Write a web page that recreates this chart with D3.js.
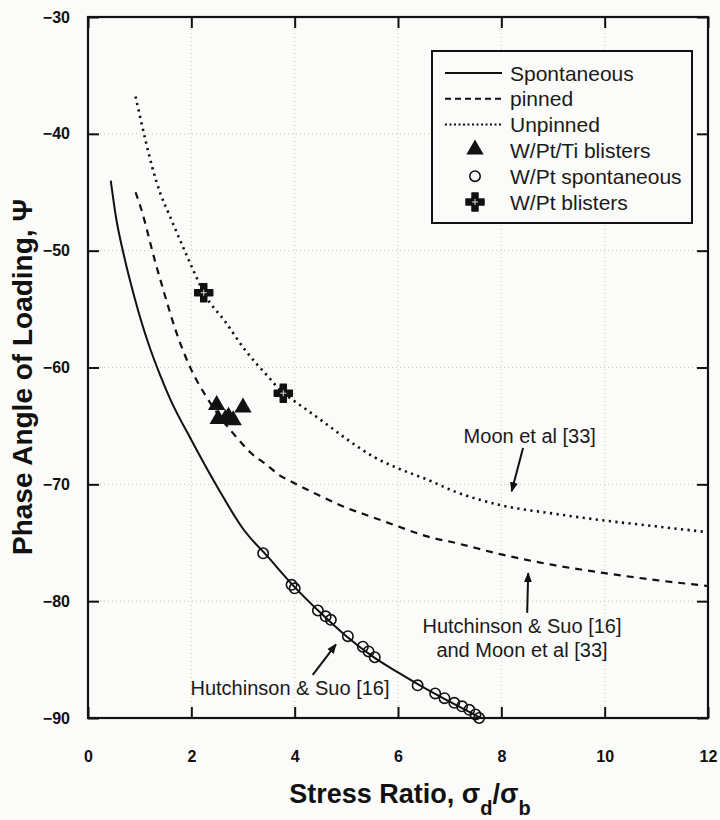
<!DOCTYPE html>
<html>
<head>
<meta charset="utf-8">
<script src="https://cdn.jsdelivr.net/npm/d3@7"></script>
<style>
  body { margin: 0; background: #fbfbf9; }
  svg { display: block; font-family: "Liberation Sans", Arial, sans-serif; }
</style>
</head>
<body>
<svg id="chart" width="720" height="820"></svg>
<script>
// curves
const spontX = [0.44, 0.54, 0.7, 0.9, 1.18, 1.4, 1.6, 2.0, 2.5, 3.0, 3.5, 4.0, 4.5, 5.0, 5.5, 6.0, 6.5, 7.0, 7.6];
const spontY = [-44, -47.1, -50.5, -54, -58.1, -60.7, -62.8, -66.2, -70.2, -73.8, -76.3, -78.8, -81, -83, -84.7, -86.1, -87.4, -88.6, -90];

const pinnedX = [0.92, 1.02, 1.31, 1.46, 1.71, 2.0, 2.29, 2.6, 2.9, 3.15, 3.45, 3.7, 3.95, 4.45, 5.0, 5.5, 6.0, 6.6, 7.1, 8.0, 9.0, 10.0, 11.0, 12.0];
const pinnedY = [-45, -46.3, -51.1, -53.4, -57, -60.2, -62.5, -64.5, -66.1, -67.3, -68.3, -69.2, -69.8, -70.9, -72, -72.8, -73.6, -74.5, -75, -76, -76.9, -77.6, -78.2, -78.7];

const unpinnedX = [0.92, 1.11, 1.24, 1.4, 1.56, 1.95, 2.08, 2.24, 2.66, 3.04, 3.49, 3.78, 3.97, 4.51, 5.03, 5.55, 5.93, 6.57, 7.09, 8.0, 9.0, 10.0, 11.0, 12.0];
const unpinnedY = [-36.8, -40.5, -42.8, -45.1, -46.8, -50.8, -52.1, -53.6, -56.1, -58.5, -60.8, -62.2, -62.8, -64.5, -66.2, -67.7, -68.5, -69.6, -70.6, -71.8, -72.5, -73.1, -73.6, -74.1];

// measured points
const triX = [2.49, 3.0, 2.52, 2.66, 2.72, 2.81];
const triY = [-63.3, -63.5, -64.5, -64.5, -64.3, -64.6];

const circX = [3.39, 3.94, 4.0, 4.45, 4.6, 4.7, 5.03, 5.32, 5.43, 5.55, 6.38, 6.72, 6.9, 7.09, 7.24, 7.38, 7.5, 7.57];
const circY = [-75.9, -78.6, -78.9, -80.8, -81.3, -81.6, -83.0, -83.9, -84.3, -84.8, -87.2, -87.9, -88.3, -88.7, -89.0, -89.3, -89.7, -90];

const crossX = [2.24, 3.78];
const crossY = [-53.6, -62.2];

const xTicks = [0, 2, 4, 6, 8, 10, 12];
const yTicks = [-30, -40, -50, -60, -70, -80, -90];

const legendLabels = ["Spontaneous", "pinned", "Unpinned", "W/Pt/Ti blisters", "W/Pt spontaneous", "W/Pt blisters"];

const svg = d3.select('#chart');
const mLeft = 88, mRight = 708, mTop = 17, mBottom = 718;

const x = d3.scaleLinear().domain([0, 12]).range([mLeft, mRight]);
const y = d3.scaleLinear().domain([-90, -30]).range([mBottom, mTop]);

const zip = (xs, ys) => xs.map((v, i) => [v, ys[i]]);

// grid
svg.append('g').selectAll('line')
    .data(xTicks.slice(1, -1))
    .enter().append('line')
    .attr('x1', d => x(d)).attr('x2', d => x(d))
    .attr('y1', mTop).attr('y2', mBottom)
    .attr('stroke', '#c8c4b8').attr('stroke-width', 1).attr('stroke-dasharray', '1,3');
svg.append('g').selectAll('line')
    .data(yTicks.slice(1, -1))
    .enter().append('line')
    .attr('y1', d => y(d)).attr('y2', d => y(d))
    .attr('x1', mLeft).attr('x2', mRight)
    .attr('stroke', '#c8c4b8').attr('stroke-width', 1).attr('stroke-dasharray', '1,3');

// axes with inward ticks
const axisB = svg.append('g').attr('transform', `translate(0,${mBottom})`)
    .call(d3.axisBottom(x).tickValues(xTicks).tickSize(-11).tickPadding(33).tickFormat(d3.format('d')));
const axisT = svg.append('g').attr('transform', `translate(0,${mTop})`)
    .call(d3.axisTop(x).tickValues(xTicks).tickSize(-11).tickFormat(''));
const axisL = svg.append('g').attr('transform', `translate(${mLeft},0)`)
    .call(d3.axisLeft(y).tickValues(yTicks).tickSize(-11).tickPadding(18).tickFormat(d3.format('d')));
const axisR = svg.append('g').attr('transform', `translate(${mRight},0)`)
    .call(d3.axisRight(y).tickValues(yTicks).tickSize(-11).tickFormat(''));

[axisB, axisT, axisL, axisR].forEach(g => {
    g.select('.domain').remove();
    g.selectAll('.tick line').attr('stroke', '#111').attr('stroke-width', 2);
    g.selectAll('.tick text').attr('fill', '#111')
        .style('font-size', '16px').style('font-weight', 'bold')
        .style('font-family', '"Liberation Sans", Arial, sans-serif');
});

svg.append('rect')
    .attr('x', mLeft).attr('y', mTop)
    .attr('width', mRight - mLeft).attr('height', mBottom - mTop)
    .attr('fill', 'none').attr('stroke', '#111').attr('stroke-width', 2.2);

// curves
const line = d3.line().x(d => x(d[0])).y(d => y(d[1])).curve(d3.curveMonotoneX);

svg.append('path').datum(zip(spontX, spontY))
    .attr('d', line).attr('fill', 'none').attr('stroke', '#111').attr('stroke-width', 2);
svg.append('path').datum(zip(pinnedX, pinnedY))
    .attr('d', line).attr('fill', 'none').attr('stroke', '#111').attr('stroke-width', 2.2)
    .attr('stroke-dasharray', '7,6');
svg.append('path').datum(zip(unpinnedX, unpinnedY))
    .attr('d', line).attr('fill', 'none').attr('stroke', '#111').attr('stroke-width', 2.6)
    .attr('stroke-dasharray', '2.2,4.4');

// markers
const tri = d3.symbol().type(d3.symbolTriangle).size(130);
const cross = d3.symbol().type(d3.symbolCross).size(180);

function drawTri(g, px, py) {
    g.append('path').attr('d', tri()).attr('transform', `translate(${px},${py - 1})`).attr('fill', '#111');
}
function drawCirc(g, px, py) {
    g.append('circle').attr('cx', px).attr('cy', py).attr('r', 5.2)
        .attr('fill', 'none').attr('stroke', '#111').attr('stroke-width', 1.6);
}
function drawCross(g, px, py) {
    g.append('path').attr('d', cross()).attr('transform', `translate(${px},${py})`)
        .attr('fill', '#111').attr('stroke', '#111').attr('stroke-width', 1.5).attr('stroke-linejoin', 'round');
    g.append('path').attr('d', `M${px - 3},${py}H${px + 3}M${px},${py - 3}V${py + 3}`)
        .attr('stroke', '#ddd').attr('stroke-width', 1);
}

const pts = svg.append('g');
circX.forEach((v, i) => drawCirc(pts, x(v), y(circY[i])));
triX.forEach((v, i) => drawTri(pts, x(v), y(triY[i])));
crossX.forEach((v, i) => drawCross(pts, x(v), y(crossY[i])));

// annotations
const defs = svg.append('defs');
defs.append('marker').attr('id', 'head')
    .attr('viewBox', '0 0 10 10').attr('refX', 9).attr('refY', 5)
    .attr('markerWidth', 5).attr('markerHeight', 5).attr('orient', 'auto')
    .attr('markerUnits', 'strokeWidth')
    .append('path').attr('d', 'M0,1L10,5L0,9Z').attr('fill', '#111');

const notes = [
    { lines: ["Moon et al [33]"], tx: 8.55, ty: -66.5, ax0: [8.42, -66.9], ax1: [8.2, -70.6] },
    { lines: ["Hutchinson & Suo [16]", "and Moon et al [33]"], tx: 8.4, ty: -82.74, ax0: [8.5, -81.0], ax1: [8.52, -77.6] },
    { lines: ["Hutchinson & Suo [16]"], tx: 3.91, ty: -88.05, ax0: [4.35, -86.3], ax1: [4.8, -83.7] }
];

notes.forEach(n => {
    const t = svg.append('text')
        .attr('x', x(n.tx)).attr('y', y(n.ty))
        .attr('text-anchor', 'middle').attr('fill', '#1a1a1a')
        .style('font-size', '20px');
    n.lines.forEach((s, i) => {
        t.append('tspan').attr('x', x(n.tx)).attr('dy', i === 0 ? 0 : 24).text(s);
    });
    svg.append('line')
        .attr('x1', x(n.ax0[0])).attr('y1', y(n.ax0[1]))
        .attr('x2', x(n.ax1[0])).attr('y2', y(n.ax1[1]))
        .attr('stroke', '#111').attr('stroke-width', 2)
        .attr('marker-end', 'url(#head)');
});

// legend
const lg = svg.append('g');
lg.append('rect').attr('x', 432).attr('y', 51).attr('width', 260).attr('height', 172)
    .attr('fill', '#fbfbf9').attr('stroke', '#111').attr('stroke-width', 2);
const rowY = d3.scalePoint().domain(legendLabels).range([73, 202]);
const dashes = [null, '6,4', '2,2.5'];
legendLabels.forEach((lab, i) => {
    const yy = rowY(lab);
    if (i < 3) {
        lg.append('line').attr('x1', 445).attr('x2', 502).attr('y1', yy).attr('y2', yy)
            .attr('stroke', '#111').attr('stroke-width', 2)
            .attr('stroke-dasharray', dashes[i]);
    } else if (i === 3) {
        drawTri(lg, 475, yy);
    } else if (i === 4) {
        drawCirc(lg, 475, yy);
    } else {
        drawCross(lg, 475, yy);
    }
    lg.append('text').attr('x', 510).attr('y', yy + 7.5)
        .attr('fill', '#1a1a1a').style('font-size', '21px').text(lab);
});

// axis titles
svg.append('text')
    .attr('transform', `translate(32,377) rotate(-90)`)
    .attr('text-anchor', 'middle').attr('fill', '#111')
    .style('font-size', '28px').style('font-weight', 'bold')
    .text('Phase Angle of Loading, Ψ');

const xt = svg.append('text')
    .attr('x', 410).attr('y', 803)
    .attr('text-anchor', 'middle').attr('fill', '#111')
    .style('font-size', '27px').style('font-weight', 'bold');
xt.append('tspan').text('Stress Ratio, σ');
xt.append('tspan').attr('dy', 12).style('font-size', '20px').text('d');
xt.append('tspan').attr('dy', -12).text('/σ');
xt.append('tspan').attr('dy', 12).style('font-size', '20px').text('b');
</script>
</body>
</html>
